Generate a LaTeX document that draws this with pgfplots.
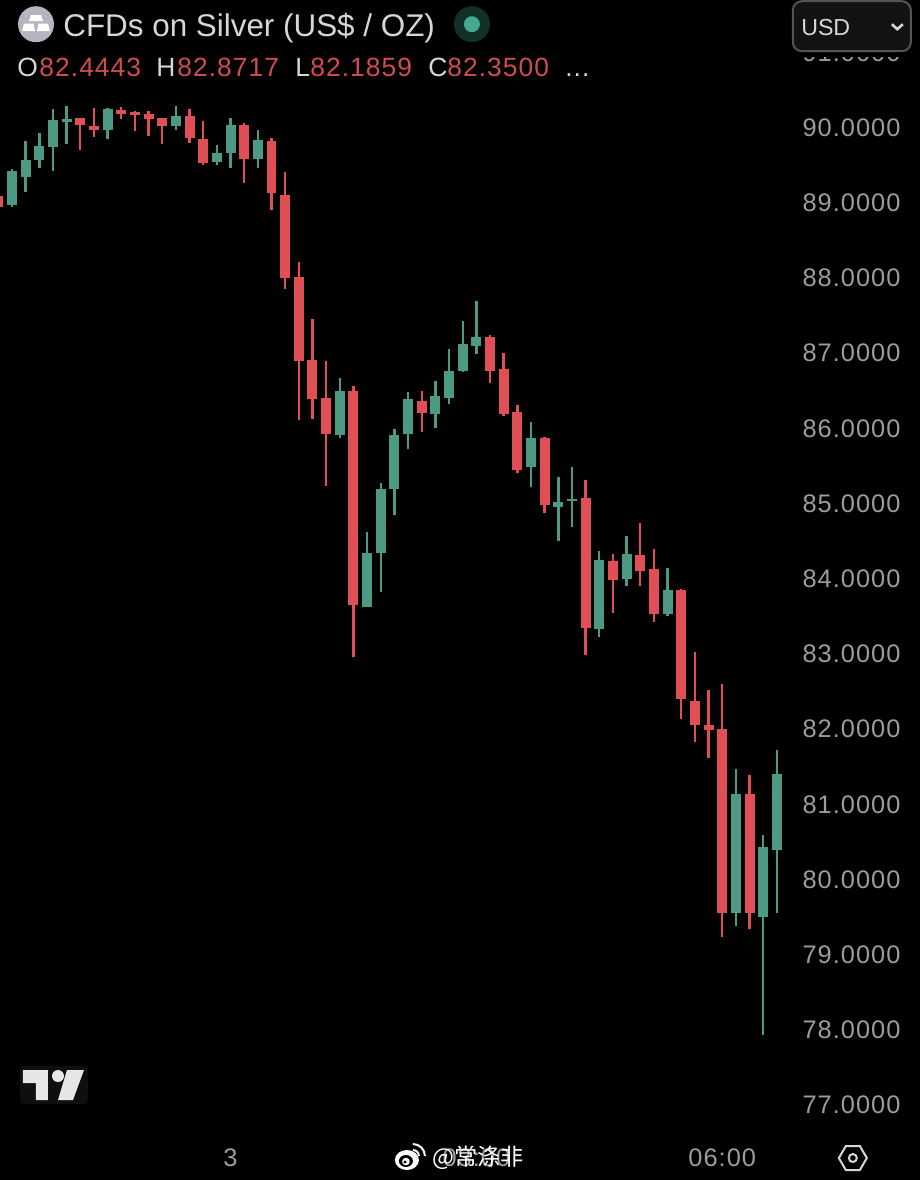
\documentclass[border=0pt]{standalone}
\usepackage{pgfplots}
\pgfplotsset{compat=1.18}
\usepackage{pgfplotstable}
\usepackage{fontspec}
\setmainfont{Liberation Sans}
\newfontfamily\spaced[LetterSpace=4]{Liberation Sans}
\newfontfamily\cjk{Noto Sans CJK SC}
\definecolor{cred}{HTML}{E04E56}
\definecolor{tred}{HTML}{D04C53}
\definecolor{cgreen}{HTML}{4C9984}
\definecolor{lbl}{HTML}{9C9C9C}
\definecolor{hdr}{HTML}{D6D6D6}
\definecolor{dotout}{HTML}{12302A}
\definecolor{dotin}{HTML}{46A88E}
\definecolor{logo}{HTML}{E6E6E6}
\definecolor{icon}{HTML}{B5B4C0}
\definecolor{halo}{HTML}{0F0F0F}
\pgfplotstableread{
i high top bot low
0 89.15 89.09 88.94 88.94
6 90.13 90.13 90.03 89.70
7 90.26 90.02 89.97 89.87
9 90.27 90.23 90.18 90.11
10 90.22 90.21 90.17 89.95
11 90.22 90.18 90.11 89.89
12 90.13 90.13 90.02 89.78
14 90.25 90.15 89.86 89.79
15 90.09 89.85 89.53 89.50
18 90.06 90.03 89.58 89.27
20 89.86 89.82 89.13 88.91
21 89.41 89.11 88.00 87.85
22 88.21 88.01 86.89 86.11
23 87.45 86.91 86.39 86.12
24 86.89 86.40 85.92 85.23
26 86.57 86.50 83.65 82.96
31 86.50 86.37 86.20 85.95
36 87.24 87.21 86.76 86.60
37 87.00 86.79 86.19 86.16
38 86.31 86.22 85.44 85.40
40 85.88 85.87 84.98 84.87
43 85.31 85.08 83.34 82.98
45 84.33 84.23 83.98 83.54
47 84.74 84.31 84.10 83.91
48 84.39 84.13 83.53 83.42
50 83.86 83.85 82.40 82.13
51 83.02 82.38 82.06 81.83
52 82.52 82.05 81.99 81.61
53 82.60 82.00 79.55 79.23
55 81.39 81.13 79.56 79.34
}\redcandles
\pgfplotstableread{
i high top bot low
1 89.45 89.42 88.97 88.94
2 89.82 89.57 89.34 89.15
3 89.93 89.75 89.57 89.46
4 90.25 90.10 89.74 89.42
5 90.29 90.11 90.07 89.78
8 90.26 90.25 89.97 89.85
13 90.29 90.15 90.02 89.97
16 89.77 89.66 89.54 89.51
17 90.13 90.03 89.67 89.46
19 89.97 89.83 89.59 89.47
25 86.67 86.50 85.91 85.87
27 84.62 84.34 83.63 83.63
28 85.28 85.19 84.34 83.83
29 85.99 85.91 85.19 84.85
30 86.48 86.39 85.92 85.72
32 86.63 86.43 86.19 86.00
33 87.05 86.77 86.41 86.33
34 87.43 87.12 86.76 86.75
35 87.70 87.21 87.09 86.99
39 86.08 85.87 85.48 85.22
41 85.36 85.02 84.96 84.50
42 85.49 85.06 85.03 84.69
44 84.37 84.25 83.33 83.22
46 84.57 84.33 83.99 83.90
49 84.14 83.85 83.53 83.51
54 81.47 81.13 79.55 79.38
56 80.59 80.43 79.50 77.93
57 81.72 81.40 80.39 79.56
}\greencandles
\begin{document}
\begin{tikzpicture}[x=0.5pt,y=-0.5pt]
\path[fill=black] (0,0) rectangle (920,1180);
\begin{axis}[
  at={(0pt,-567.5pt)},anchor=south west,
  width=396pt,height=567.5pt,scale only axis,
  xmin=0.1215,xmax=58.1,ymin=76.60,ymax=91.696,
  axis line style={draw=none},
  major tick length=0pt,
  ytick={77,78,...,91},
  ytick pos=right,yticklabel pos=right,
  xtick={17,35,53},xticklabels={3,03:00,06:00},
  tick label style={font=\fontsize{12.7}{15}\selectfont\spaced,text=lbl},
  yticklabel style={anchor=west,xshift=1.8pt,/pgf/number format/.cd,fixed,fixed zerofill,precision=4,assume math mode=true},
  xticklabel style={anchor=center,yshift=-11.5pt},
  clip=true,
]
% wicks, then bodies
\addplot[draw=none,mark=none,forget plot,error bars/.cd,y dir=both,y explicit,error mark=none,error bar style={draw=cred,line width=1.2pt}]
  table[x=i,y=top,y error plus expr=\thisrow{high}-\thisrow{top},y error minus expr=\thisrow{top}-\thisrow{low}] {\redcandles};
\addplot[draw=none,mark=none,forget plot,error bars/.cd,y dir=both,y explicit,error mark=none,error bar style={draw=cred,line width=5pt}]
  table[x=i,y=top,y error plus expr=0,y error minus expr=\thisrow{top}-\thisrow{bot}] {\redcandles};
\addplot[draw=none,mark=none,forget plot,error bars/.cd,y dir=both,y explicit,error mark=none,error bar style={draw=cgreen,line width=1.2pt}]
  table[x=i,y=top,y error plus expr=\thisrow{high}-\thisrow{top},y error minus expr=\thisrow{top}-\thisrow{low}] {\greencandles};
\addplot[draw=none,mark=none,forget plot,error bars/.cd,y dir=both,y explicit,error mark=none,error bar style={draw=cgreen,line width=5pt}]
  table[x=i,y=top,y error plus expr=0,y error minus expr=\thisrow{top}-\thisrow{bot}] {\greencandles};
\end{axis}
% cover the cut-off top label, USD selector
\fill[black] (790,0) rectangle (920,57);
\draw[draw=white!33!black,fill=white!7!black,line width=1pt,rounded corners=4.5pt] (793,1) rectangle (911,51);
\node[anchor=west,inner sep=0,text=hdr,font=\fontsize{11.6}{15}\selectfont] at (801,27) {USD};
\draw[hdr,line width=1.3pt] (892,24) -- (897.5,29) -- (903,24);
% header
\fill[icon] (36,24) circle[radius=18];
\fill[white] (31,15) -- (41,15) -- (43,21) -- (29,21) -- cycle;
\fill[white] (24,23.5) -- (33.5,23.5) -- (35,31) -- (22,31) -- cycle;
\fill[white] (38.5,23.5) -- (48,23.5) -- (50,31) -- (37,31) -- cycle;
\node[anchor=west,inner sep=0,text=hdr,font=\fontsize{15.7}{18}\selectfont] at (63,27.5) {CFDs on Silver (US\$ / OZ)};
\fill[dotout] (472,24) circle[radius=18];
\fill[dotin] (472,24) circle[radius=8];
\foreach \xa/\la/\xb/\vb in {17/O/39/82.4443,156/H/177/82.8717,295/L/310/82.1859,428/C/447/82.3500}{
  \node[anchor=west,inner sep=0,text=hdr,font=\fontsize{13.2}{15}\selectfont\spaced] at (\xa,67) {\la};
  \node[anchor=west,inner sep=0,text=tred,font=\fontsize{13.2}{15}\selectfont\spaced] at (\xb,67) {\vb};
}
\node[anchor=west,inner sep=0,text=hdr,font=\fontsize{13.2}{15}\selectfont\spaced] at (565,75) {...};
% TV logo
\fill[halo,rounded corners=2pt] (20,1066) rectangle (88,1104);
\fill[logo] (23,1070) -- (48,1070) -- (48,1100) -- (36,1100) -- (36,1083) -- (23,1083) -- cycle;
\fill[logo] (58,1076) circle[radius=6];
\fill[logo] (67,1070) -- (84,1070) -- (73,1100) -- (58,1100) -- cycle;
% settings hexagon
\draw[hdr,line width=1pt] (839,1158) -- (846,1146) -- (860,1146) -- (867,1158) -- (860,1170) -- (846,1170) -- cycle;
\draw[hdr,line width=1pt] (853,1158) circle[radius=4];
% watermark
\fill[white] (407,1160) ellipse[x radius=12,y radius=10];
\fill[black] (406,1161) ellipse[x radius=7,y radius=6];
\fill[white] (406,1161.5) circle[radius=3.8];
\fill[black] (405,1162) circle[radius=1.6];
\draw[white,line width=1pt] (413,1150) arc[start angle=270,end angle=360,radius=6];
\draw[white,line width=1pt] (413,1144) arc[start angle=270,end angle=360,radius=12];
\node[anchor=west,inner sep=0,text=white,font=\fontsize{11.6}{14}\selectfont\cjk] at (432,1158) {@常涤非};
\end{tikzpicture}
\end{document}
